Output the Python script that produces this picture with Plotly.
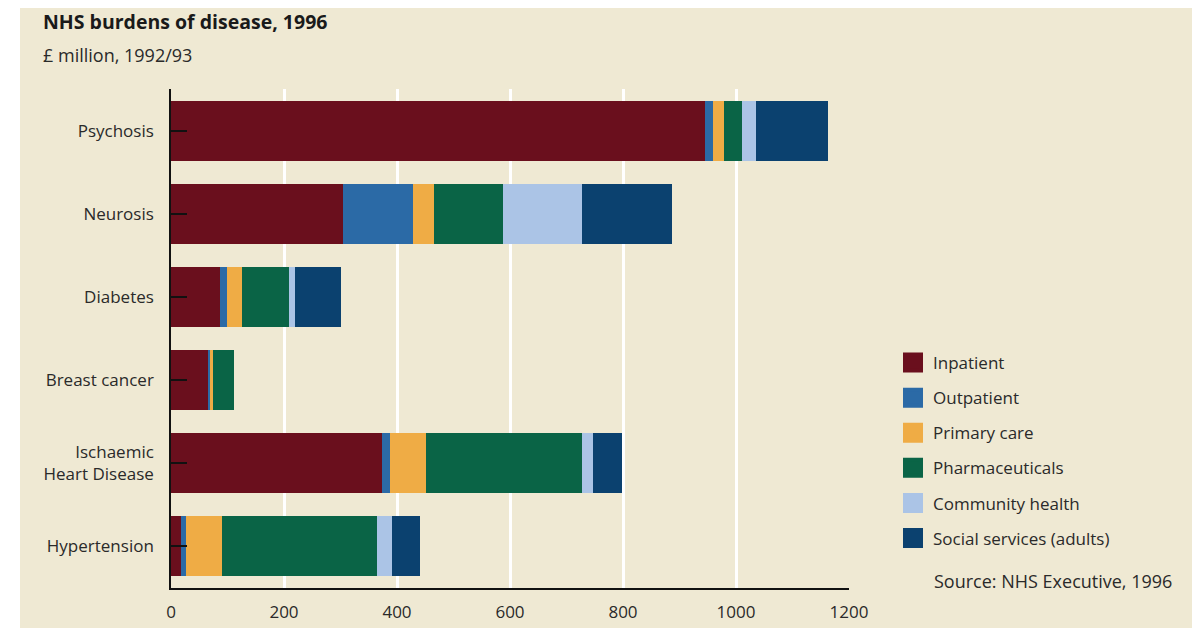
import plotly.graph_objects as go

categories = ["Psychosis", "Neurosis", "Diabetes", "Breast cancer",
              "Ischaemic<br>Heart Disease", "Hypertension"]
series_names = ["Inpatient", "Outpatient", "Primary care", "Pharmaceuticals",
                "Community health", "Social services (adults)"]
inpatient = [946, 304, 87, 65, 373, 18]
outpatient = [13, 124, 12, 4, 15, 9]
primary_care = [19, 37, 27, 6, 63, 64]
pharmaceuticals = [32, 123, 82, 36, 276, 274]
community_health = [25, 139, 12, 0, 20, 26]
social_services = [127, 160, 80, 0, 52, 49]
x_ticks = [0, 200, 400, 600, 800, 1000, 1200]

series_values = [inpatient, outpatient, primary_care, pharmaceuticals,
                 community_health, social_services]
colors = ["#6a0f1d", "#2b6aa6", "#efac45", "#0a6446", "#abc4e6", "#0b416f"]

FONT = "Open Sans"
BG = "#efe9d3"
TXT = "#2a2a2a"

fig = go.Figure()
for name, vals, c in zip(series_names, series_values, colors):
    fig.add_trace(go.Bar(
        y=categories, x=vals, name=name, orientation="h",
        marker=dict(color=c, line=dict(width=0)),
        showlegend=False, legendgroup=name,
    ))
# legend swatches
for name, c in zip(series_names, colors):
    fig.add_trace(go.Scatter(
        x=[None], y=[None], mode="markers", name=name, legendgroup=name,
        marker=dict(symbol="square", size=16, color=c, line=dict(color=c, width=4)),
    ))

# page is offset by the 8px body margin; work in reference pixel coords
OFF = 8
W, H = 1201 - OFF, 628 - OFF
L, T = 171 - OFF, 89 - OFF
PR, PB = 849 - OFF, 588 - OFF
R, B = W - PR, H - PB
pw, ph = PR - L, PB - T

def px(xp):
    return (xp - OFF - L) / pw

def py(yp):
    return (PB - (yp - OFF)) / ph

fig.update_layout(
    width=W, height=H,
    margin=dict(l=L, r=R, t=T, b=B, autoexpand=False),
    barmode="stack", bargap=0.28,
    paper_bgcolor="white", plot_bgcolor=BG,
    font=dict(family=FONT, size=17, color=TXT),
    showlegend=True,
    legend=dict(x=px(893), y=py(345), xanchor="left", yanchor="top",
                bgcolor="rgba(0,0,0,0)", font=dict(size=17, color=TXT),
                tracegroupgap=10, itemsizing="trace"),
    xaxis=dict(range=[0, 1200], tickvals=x_ticks, ticktext=[str(v) for v in x_ticks],
               showgrid=True, gridcolor="white", gridwidth=3,
               showline=True, linecolor="#111", linewidth=1.5,
               zeroline=False, ticks="", ticklabelstandoff=8, automargin=False,
               tickfont=dict(size=17, color=TXT), fixedrange=True),
    yaxis=dict(autorange="reversed", showgrid=False, showline=True,
               linecolor="#111", linewidth=1.5, ticks="inside", ticklen=16,
               tickcolor="#111", tickwidth=1.5, ticklabelstandoff=12, automargin=False,
               tickfont=dict(size=17, color=TXT), fixedrange=True),
    shapes=[dict(type="rect", xref="paper", yref="paper", layer="below",
                 x0=px(20), x1=px(1192), y0=py(628), y1=py(5),
                 fillcolor=BG, line=dict(width=0))],
    annotations=[
        dict(text="<b>NHS burdens of disease, 1996</b>", xref="paper", yref="paper",
             x=px(41), y=py(22), xanchor="left", yanchor="middle", showarrow=False,
             font=dict(family=FONT, size=19.5, color="#1a1a1a")),
        dict(text="£ million, 1992/93", xref="paper", yref="paper",
             x=px(41), y=py(55), xanchor="left", yanchor="middle", showarrow=False,
             font=dict(family=FONT, size=18, color=TXT)),
        dict(text="Source: NHS Executive, 1996", xref="paper", yref="paper",
             x=px(932), y=py(581), xanchor="left", yanchor="middle", showarrow=False,
             font=dict(family=FONT, size=18, color=TXT)),
    ],
)

fig.write_html("out.html")
